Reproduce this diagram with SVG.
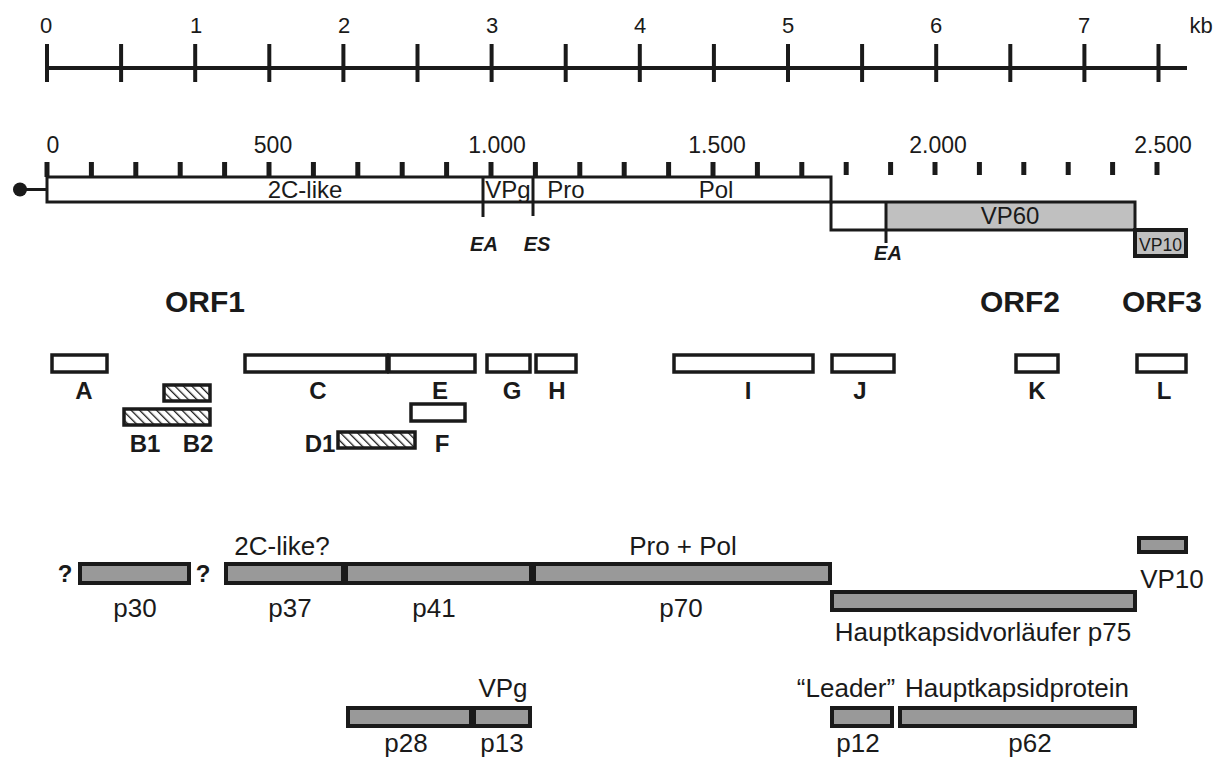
<svg xmlns="http://www.w3.org/2000/svg" width="1228" height="760" viewBox="0 0 1228 760">
  <defs>
    <style>
      .ln { stroke: #1a1a1a; fill: none; }
      .axis { stroke: #1a1a1a; stroke-width: 4; }
      .tick { stroke: #1a1a1a; stroke-width: 4; }
      .tick2 { stroke: #1a1a1a; stroke-width: 5; }
      .t { font-family: "Liberation Sans", Arial, sans-serif; fill: #1a1a1a; }
      .num { font-size: 22px; text-anchor: middle; }
      .num2 { font-size: 23px; text-anchor: middle; }
      .inbar { font-size: 24px; text-anchor: middle; }
      .site { font-size: 20px; font-weight: bold; font-style: italic; text-anchor: middle; }
      .orf { font-size: 30px; font-weight: bold; text-anchor: middle; }
      .frag { fill: #ffffff; stroke: #1a1a1a; stroke-width: 3.5; }
      .hatch { fill: url(#stripes); stroke: #1a1a1a; stroke-width: 3.5; }
      .flab { font-size: 24px; font-weight: bold; text-anchor: middle; }
      .prot { fill: #999999; stroke: #1a1a1a; stroke-width: 4; }
      .plab { font-size: 26px; text-anchor: middle; }
      .q { font-size: 24px; font-weight: bold; text-anchor: middle; }
    </style>
    <pattern id="stripes" patternUnits="userSpaceOnUse" width="6" height="6" patternTransform="rotate(-45)">
      <rect width="6" height="6" fill="#ffffff"/>
      <line x1="0" y1="0" x2="0" y2="6" stroke="#1a1a1a" stroke-width="2.6"/>
    </pattern>
  </defs>
  <rect width="1228" height="760" fill="#ffffff"/>

  <!-- genome scale in kb -->
  <g id="kb-scale">
    <line class="axis" x1="47" y1="68" x2="1187" y2="68"/>
    <g class="tick">
      <line x1="47" y1="44" x2="47" y2="82"/>
      <line x1="121.1" y1="44" x2="121.1" y2="82"/>
      <line x1="195.2" y1="44" x2="195.2" y2="82"/>
      <line x1="269.3" y1="44" x2="269.3" y2="82"/>
      <line x1="343.4" y1="44" x2="343.4" y2="82"/>
      <line x1="417.5" y1="44" x2="417.5" y2="82"/>
      <line x1="491.6" y1="44" x2="491.6" y2="82"/>
      <line x1="565.7" y1="44" x2="565.7" y2="82"/>
      <line x1="639.8" y1="44" x2="639.8" y2="82"/>
      <line x1="713.9" y1="44" x2="713.9" y2="82"/>
      <line x1="788" y1="44" x2="788" y2="82"/>
      <line x1="862.1" y1="44" x2="862.1" y2="82"/>
      <line x1="936.2" y1="44" x2="936.2" y2="82"/>
      <line x1="1010.3" y1="44" x2="1010.3" y2="82"/>
      <line x1="1084.4" y1="44" x2="1084.4" y2="82"/>
      <line x1="1158.5" y1="44" x2="1158.5" y2="82"/>
    </g>
    <g class="t num">
      <text x="46" y="33">0</text>
      <text x="196" y="33">1</text>
      <text x="344" y="33">2</text>
      <text x="492" y="33">3</text>
      <text x="640" y="33">4</text>
      <text x="788" y="33">5</text>
      <text x="936" y="33">6</text>
      <text x="1084" y="33">7</text>
      <text x="1201" y="33">kb</text>
    </g>
  </g>

  <!-- amino-acid scale -->
  <g id="aa-scale">
    <g class="tick2">
      <line x1="47" y1="162" x2="47" y2="177"/>
      <line x1="91.4" y1="162" x2="91.4" y2="177"/>
      <line x1="135.8" y1="162" x2="135.8" y2="177"/>
      <line x1="180.2" y1="162" x2="180.2" y2="177"/>
      <line x1="224.6" y1="162" x2="224.6" y2="177"/>
      <line x1="269" y1="162" x2="269" y2="177"/>
      <line x1="313.4" y1="162" x2="313.4" y2="177"/>
      <line x1="357.8" y1="162" x2="357.8" y2="177"/>
      <line x1="402.2" y1="162" x2="402.2" y2="177"/>
      <line x1="446.6" y1="162" x2="446.6" y2="177"/>
      <line x1="491" y1="162" x2="491" y2="177"/>
      <line x1="535.4" y1="162" x2="535.4" y2="177"/>
      <line x1="579.8" y1="162" x2="579.8" y2="177"/>
      <line x1="624.2" y1="162" x2="624.2" y2="177"/>
      <line x1="668.6" y1="162" x2="668.6" y2="177"/>
      <line x1="713" y1="162" x2="713" y2="177"/>
      <line x1="757.4" y1="162" x2="757.4" y2="177"/>
      <line x1="801.8" y1="162" x2="801.8" y2="177"/>
      <line x1="846.2" y1="162" x2="846.2" y2="175"/>
      <line x1="890.6" y1="162" x2="890.6" y2="175"/>
      <line x1="935" y1="162" x2="935" y2="175"/>
      <line x1="979.4" y1="162" x2="979.4" y2="175"/>
      <line x1="1023.8" y1="162" x2="1023.8" y2="175"/>
      <line x1="1068.2" y1="162" x2="1068.2" y2="175"/>
      <line x1="1112.6" y1="162" x2="1112.6" y2="175"/>
      <line x1="1157" y1="162" x2="1157" y2="175"/>
    </g>
    <g class="t num2">
      <text x="53" y="153">0</text>
      <text x="273" y="153">500</text>
      <text x="497" y="153">1.000</text>
      <text x="717" y="153">1.500</text>
      <text x="938" y="153">2.000</text>
      <text x="1163" y="153">2.500</text>
    </g>
  </g>

  <!-- ORF1 polyprotein -->
  <g id="orf1">
    <line class="ln" x1="22" y1="189.5" x2="47" y2="189.5" stroke-width="3"/>
    <circle cx="20" cy="189.5" r="7" fill="#1a1a1a"/>
    <rect x="47" y="177" width="784" height="25" fill="#ffffff" stroke="#1a1a1a" stroke-width="3"/>
    <line class="ln" x1="483" y1="177" x2="483" y2="217" stroke-width="3"/>
    <line class="ln" x1="533" y1="177" x2="533" y2="216" stroke-width="3"/>
    <g class="t inbar">
      <text x="305" y="198">2C-like</text>
      <text x="508" y="198">VPg</text>
      <text x="566" y="198">Pro</text>
      <text x="716" y="198">Pol</text>
    </g>
    <g class="t site">
      <text x="484" y="251">EA</text>
      <text x="537" y="251">ES</text>
    </g>
  </g>

  <!-- ORF2 capsid precursor -->
  <g id="orf2">
    <rect x="886" y="202" width="249" height="28" fill="#c0c0c0"/>
    <rect x="831" y="202" width="304" height="28" fill="none" stroke="#1a1a1a" stroke-width="3"/>
    <line class="ln" x1="886" y1="202" x2="886" y2="243" stroke-width="3"/>
    <text class="t inbar" x="1010" y="224">VP60</text>
    <text class="t site" x="888" y="260">EA</text>
  </g>

  <!-- ORF3 -->
  <g id="orf3">
    <rect x="1135" y="230" width="51" height="26" fill="#c0c0c0" stroke="#1a1a1a" stroke-width="4"/>
    <text class="t" x="1160.5" y="251" font-size="18" text-anchor="middle" textLength="43" lengthAdjust="spacingAndGlyphs">VP10</text>
  </g>

  <g id="orf-labels" class="t orf">
    <text x="205" y="312">ORF1</text>
    <text x="1020" y="312">ORF2</text>
    <text x="1162" y="312">ORF3</text>
  </g>

  <!-- expressed fragments -->
  <g id="fragments">
    <g id="frag-A"><rect class="frag" x="52" y="355" width="55" height="17"/><text class="t flab" x="84" y="399">A</text></g>
    <g id="frag-B2"><rect class="hatch" x="164" y="385" width="46" height="16"/><text class="t flab" x="198" y="452">B2</text></g>
    <g id="frag-B1"><rect class="hatch" x="124" y="409" width="86" height="16"/><text class="t flab" x="145" y="452">B1</text></g>
    <g id="frag-C"><rect class="frag" x="245" y="355" width="142" height="17"/><text class="t flab" x="318" y="399">C</text></g>
    <g id="frag-D1"><rect class="hatch" x="338" y="432" width="77" height="16"/><text class="t flab" x="320" y="452">D1</text></g>
    <g id="frag-E"><rect class="frag" x="389" y="355" width="86" height="17"/><text class="t flab" x="440" y="399">E</text></g>
    <g id="frag-F"><rect class="frag" x="411" y="404" width="54" height="17"/><text class="t flab" x="442" y="452">F</text></g>
    <g id="frag-G"><rect class="frag" x="487" y="355" width="43" height="17"/><text class="t flab" x="512" y="399">G</text></g>
    <g id="frag-H"><rect class="frag" x="536" y="355" width="40" height="17"/><text class="t flab" x="557" y="399">H</text></g>
    <g id="frag-I"><rect class="frag" x="674" y="355" width="139" height="17"/><text class="t flab" x="748" y="399">I</text></g>
    <g id="frag-J"><rect class="frag" x="832" y="355" width="62" height="17"/><text class="t flab" x="860" y="399">J</text></g>
    <g id="frag-K"><rect class="frag" x="1016" y="355" width="42" height="17"/><text class="t flab" x="1037" y="399">K</text></g>
    <g id="frag-L"><rect class="frag" x="1137" y="355" width="49" height="17"/><text class="t flab" x="1164" y="399">L</text></g>
  </g>

  <!-- processed proteins -->
  <g id="proteins">
    <g id="p30">
      <rect class="prot" x="80" y="564" width="109" height="19"/>
      <text class="t q" x="65" y="582">?</text>
      <text class="t q" x="203" y="582">?</text>
      <text class="t plab" x="135" y="617">p30</text>
    </g>
    <g id="p37">
      <rect class="prot" x="226" y="564" width="117" height="19"/>
      <text class="t plab" x="282" y="555">2C-like?</text>
      <text class="t plab" x="290" y="617">p37</text>
    </g>
    <g id="p41">
      <rect class="prot" x="346" y="564" width="185" height="19"/>
      <text class="t plab" x="434" y="617">p41</text>
    </g>
    <g id="p70">
      <rect class="prot" x="534" y="564" width="296" height="19"/>
      <text class="t plab" x="683" y="555">Pro + Pol</text>
      <text class="t plab" x="681" y="617">p70</text>
    </g>
    <g id="vp10">
      <rect class="prot" x="1139" y="538" width="47" height="14"/>
      <text class="t plab" x="1172" y="588">VP10</text>
    </g>
    <g id="p75">
      <rect class="prot" x="832" y="592" width="303" height="18"/>
      <text class="t plab" x="983" y="641">Hauptkapsidvorläufer p75</text>
    </g>
    <g id="p28">
      <rect class="prot" x="348" y="708" width="123" height="18"/>
      <text class="t plab" x="406" y="752">p28</text>
    </g>
    <g id="p13">
      <rect class="prot" x="474" y="708" width="56" height="18"/>
      <text class="t plab" x="503" y="697">VPg</text>
      <text class="t plab" x="502" y="752">p13</text>
    </g>
    <g id="p12">
      <rect class="prot" x="832" y="708" width="60" height="18"/>
      <text class="t plab" x="846" y="697">“Leader”</text>
      <text class="t plab" x="858" y="752">p12</text>
    </g>
    <g id="p62">
      <rect class="prot" x="900" y="708" width="235" height="18"/>
      <text class="t plab" x="1017" y="697">Hauptkapsidprotein</text>
      <text class="t plab" x="1030" y="752">p62</text>
    </g>
  </g>
</svg>
